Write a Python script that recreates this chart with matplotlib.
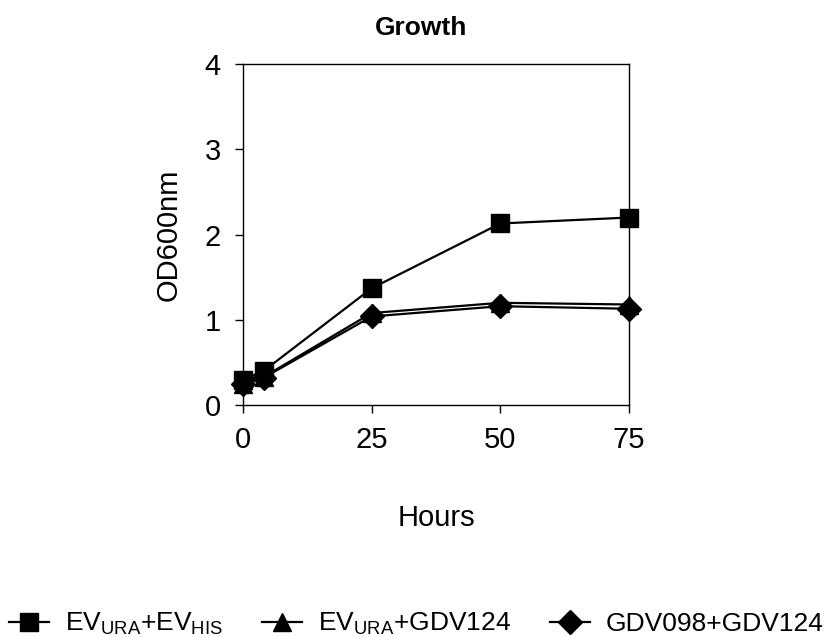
import matplotlib
matplotlib.use('Agg')
import matplotlib.pyplot as plt

plt.rcParams['font.family'] = ['Liberation Sans', 'DejaVu Sans']
plt.rcParams['mathtext.fontset'] = 'custom'
plt.rcParams['mathtext.rm'] = 'Liberation Sans'
plt.rcParams['mathtext.it'] = 'Liberation Sans'
plt.rcParams['mathtext.default'] = 'rm'

hours = [0, 4, 25, 50, 75]
ev_ev = [0.30, 0.40, 1.37, 2.13, 2.20]
ev_gdv124 = [0.25, 0.33, 1.08, 1.20, 1.18]
gdv098_gdv124 = [0.25, 0.32, 1.04, 1.16, 1.13]

labels = [r'EV$_{\mathrm{URA}}$+EV$_{\mathrm{HIS}}$',
          r'EV$_{\mathrm{URA}}$+GDV124',
          'GDV098+GDV124']
markers = ['s', '^', 'D']

fig = plt.figure(figsize=(8.33, 6.37), dpi=100)
ax = fig.add_axes([0.2917, 0.364, 0.4633, 0.5355])

for ys, m, lab in zip([ev_ev, ev_gdv124, gdv098_gdv124], markers, labels):
    ms = 12 if m == 'D' else 13
    ax.plot(hours, ys, color='black', lw=1.6, marker=m, ms=ms,
            mfc='black', mec='black', label=lab, clip_on=False)

ax.set_xlim(0, 75)
ax.set_ylim(0, 4)
ax.set_xticks([0, 25, 50, 75])
ax.set_yticks([0, 1, 2, 3, 4])
ax.tick_params(labelsize=21, length=6, width=1, direction='out')
ax.tick_params(axis='x', pad=9)
ax.tick_params(axis='y', pad=10)
for s in ax.spines.values():
    s.set_linewidth(1)

ax.set_xlabel('Hours', fontsize=21, labelpad=36)
ax.set_ylabel('OD600nm', fontsize=21, labelpad=16)
fig.text(421 / 833, 1 - 28 / 637, 'Growth', fontsize=19, fontweight='bold',
         ha='center', va='center')

fig.legend(loc='center', bbox_to_anchor=(0.5, 0.02), ncol=3, frameon=False,
           fontsize=19, handlelength=1.5, columnspacing=1.5, handletextpad=0.6,
           borderpad=0)

fig.savefig('out.png', dpi=100)
